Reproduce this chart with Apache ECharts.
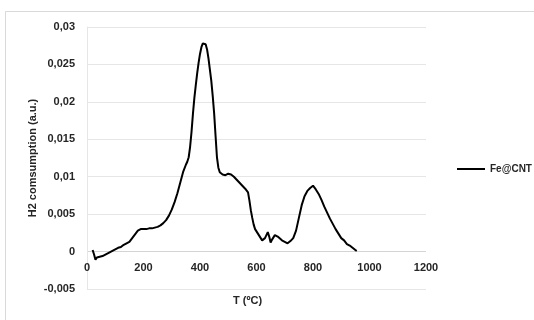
<!DOCTYPE html>
<html>
<head>
<meta charset="utf-8">
<script src="https://cdn.jsdelivr.net/npm/echarts@6/dist/echarts.min.js"></script>
<style>
  html, body { margin: 0; padding: 0; background: #fff; }
  #chart { width: 534px; height: 320px; }
</style>
</head>
<body>
<div id="chart"></div>
<script>
// TPR profile: temperature (ºC) and H2 consumption (a.u.)
const temperature = [
  20, 25, 30, 35, 40, 45, 50, 55, 60, 70, 80, 90, 100, 110, 120, 130, 140, 150, 160, 170,
  180, 190, 200, 210, 220, 230, 240, 250, 260, 270, 280, 290, 300, 310, 320, 330, 340, 350,
  355, 360, 365, 370, 375, 380, 385, 390, 395, 400, 405, 410, 415, 420, 425, 430, 435, 440,
  445, 450, 455, 460, 465, 470, 480, 490, 500, 505, 510, 520, 530, 540, 550, 560, 570, 575,
  580, 585, 590, 595, 600, 605, 610, 615, 620, 625, 630, 635, 640, 645, 650, 655, 660, 665,
  670, 675, 680, 690, 700, 710, 715, 720, 730, 740, 750, 760, 770, 780, 790, 800, 805, 810,
  820, 830, 840, 850, 860, 870, 880, 890, 900, 910, 920, 930, 940, 950, 955
];
const h2Consumption = [
  0.0002, -0.0004, -0.0011, -0.0008, -0.0010, -0.0007, -0.0009, -0.0006, -0.0005, -0.0003,
  -0.0001, 0.0001, 0.0003, 0.0005, 0.0006, 0.0009, 0.0011, 0.0013, 0.0018, 0.0023,
  0.0028, 0.0030, 0.0030, 0.0030, 0.0031, 0.0031, 0.0032, 0.0033, 0.0035, 0.0038,
  0.0042, 0.0048, 0.0056, 0.0066, 0.0078, 0.0092, 0.0106, 0.0116,
  0.0120, 0.0126, 0.0140, 0.0160, 0.0184, 0.0205, 0.0222, 0.0238, 0.0252, 0.0264, 0.0273, 0.0278,
  0.0279, 0.0277, 0.0270, 0.0258, 0.0243, 0.0228,
  0.0208, 0.0185, 0.0155, 0.0126, 0.0112, 0.0106, 0.0103, 0.0102, 0.0104, 0.0105, 0.0103, 0.0100,
  0.0096, 0.0092, 0.0088, 0.0084, 0.0079, 0.0068,
  0.0055, 0.0045, 0.0036, 0.0030, 0.0032, 0.0024, 0.0022, 0.0018, 0.0015, 0.0016, 0.0018, 0.0022,
  0.0026, 0.0020, 0.0012, 0.0016, 0.0018, 0.0022,
  0.0023, 0.0020, 0.0018, 0.0015, 0.0013, 0.0011, 0.0012, 0.0014, 0.0018, 0.0028, 0.0045, 0.0062,
  0.0074, 0.0081, 0.0085, 0.0088, 0.0087, 0.0083,
  0.0077, 0.0069, 0.0060, 0.0052, 0.0044, 0.0037, 0.0030, 0.0024, 0.0018, 0.0015, 0.0010, 0.0008,
  0.0005, 0.0002, 0.0001
];
const seriesName = 'Fe@CNT';
const xTitle = 'T (ºC)';
const yTitle = 'H2 comsumption (a.u.)';

const chart = echarts.init(document.getElementById('chart'), null, { renderer: 'canvas' });
const labelFont = { fontFamily: 'Liberation Sans', fontWeight: 'bold', fontSize: 11, color: '#262626' };

chart.setOption({
  animation: false,
  backgroundColor: '#fff',
  grid: { left: 87, right: 108, top: 27, bottom: 31 },
  graphic: [
    {
      type: 'rect',
      shape: { x: 5.5, y: 11.5, width: 560, height: 340 },
      style: { fill: 'none', stroke: '#d9d9d9', lineWidth: 1 },
      silent: true
    },
    {
      type: 'text',
      left: 233, top: 295,
      style: { text: xTitle, font: 'bold 11px "Liberation Sans"', fill: '#262626' }
    }
  ],
  legend: {
    left: 457, top: 164,
    padding: 0,
    itemWidth: 28, itemHeight: 2,
    icon: 'rect',
    textStyle: Object.assign({}, labelFont, { fontSize: 10 }),
    data: [seriesName]
  },
  xAxis: {
    type: 'value',
    min: 0, max: 1200, interval: 200,
    // the axis sits at the bottom of the grid; labels are pulled up beneath the zero line
    axisLine: { show: false, onZero: false },
    axisTick: { show: false },
    splitLine: { show: false },
    axisLabel: Object.assign({ margin: -27, formatter: v => String(v) }, labelFont)
  },
  yAxis: {
    type: 'value',
    min: -0.005, max: 0.03, interval: 0.005,
    name: yTitle,
    nameLocation: 'middle',
    nameGap: 49,
    nameMoveOverlap: false,
    nameTextStyle: labelFont,
    axisLine: { show: true, onZero: false, lineStyle: { color: '#e6e6e6', width: 1 } },
    axisTick: { show: false },
    splitLine: {
      show: true,
      lineStyle: {
        // the zero line doubles as the horizontal axis line, a shade darker
        color: ['#e6e6e6', '#d4d4d4', '#e6e6e6', '#e6e6e6', '#e6e6e6', '#e6e6e6', '#e6e6e6', '#e6e6e6'],
        width: 1
      }
    },
    axisLabel: Object.assign({
      margin: 12,
      formatter: v => {
        const r = Math.round(v * 1000) / 1000;
        return String(r).replace('.', ',');
      }
    }, labelFont)
  },
  series: [{
    name: seriesName,
    type: 'line',
    data: temperature.map((t, i) => [t, h2Consumption[i]]),
    showSymbol: false,
    symbol: 'none',
    lineStyle: { color: '#000', width: 2 },
    itemStyle: { color: '#000' }
  }]
});
</script>
</body>
</html>
